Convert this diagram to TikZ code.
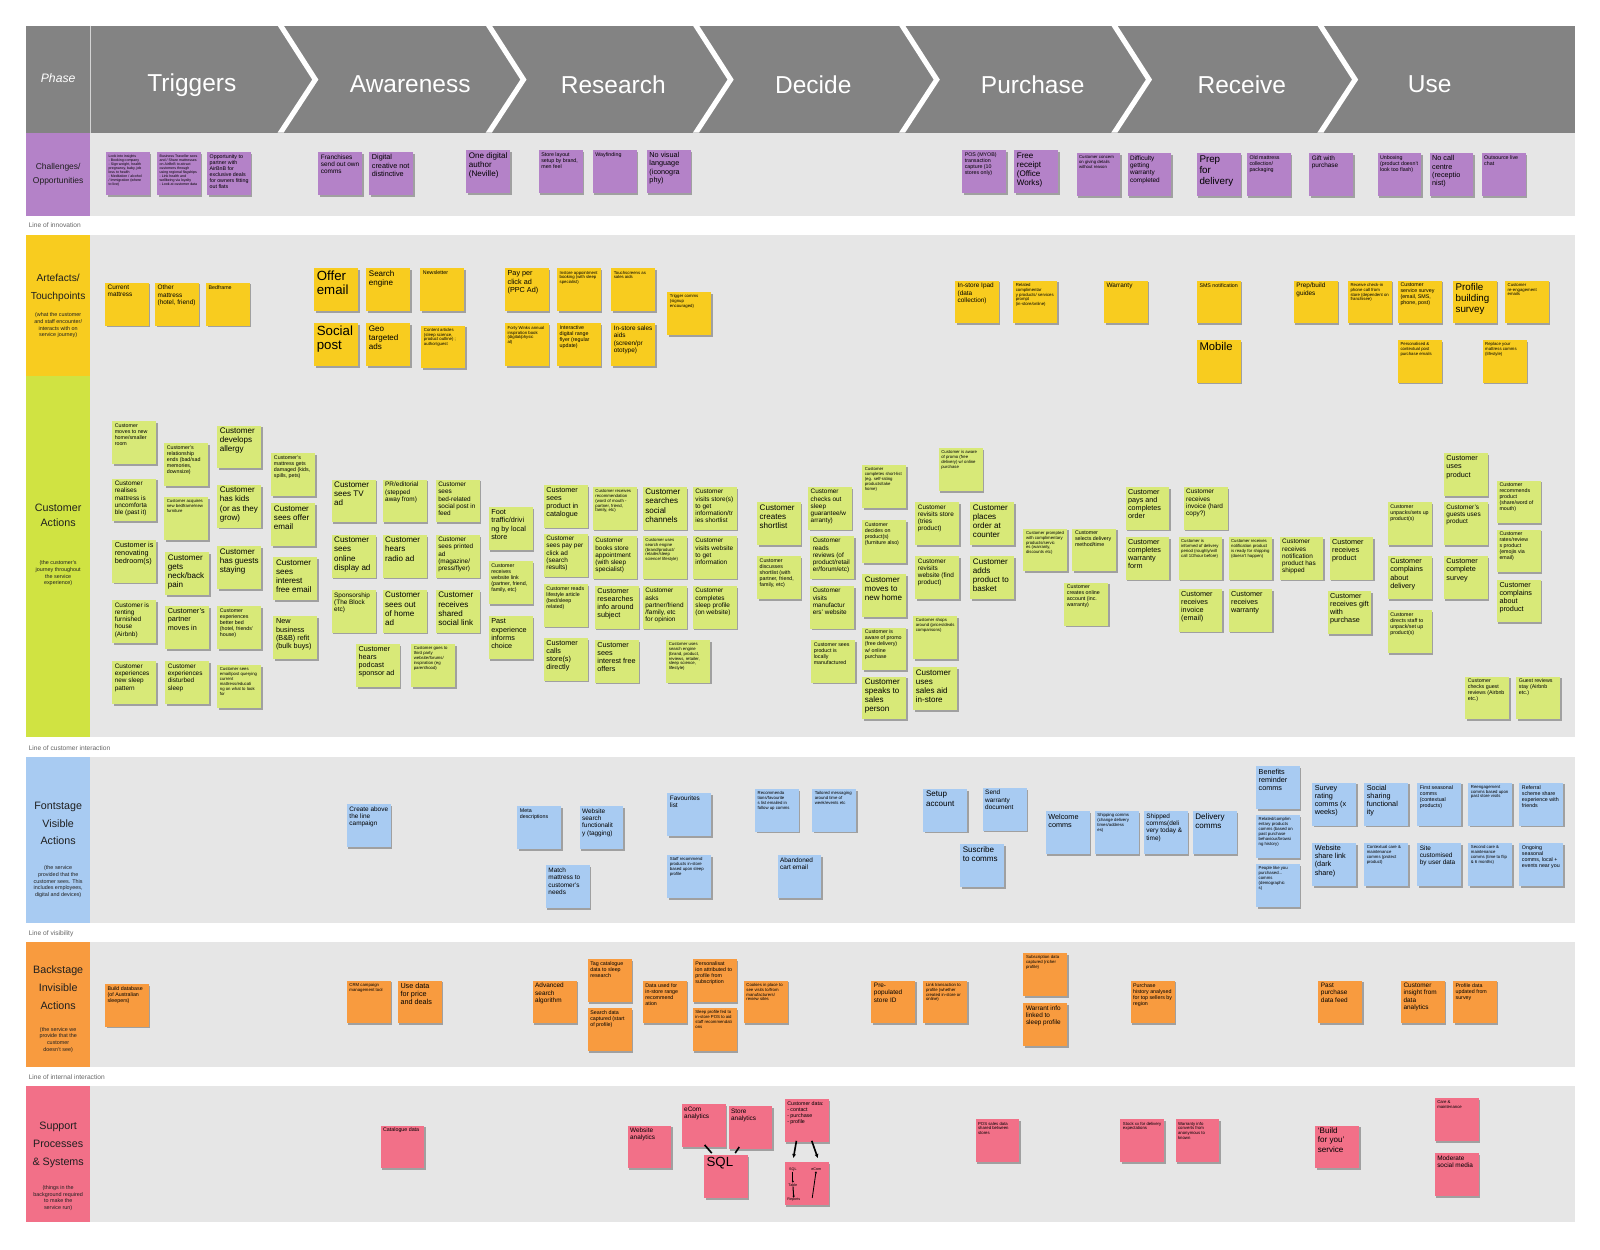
\documentclass[tikz,border=0pt]{standalone}
\usepackage{fontspec}
\setmainfont{Liberation Sans}
\usetikzlibrary{shadows,arrows.meta,calc}
\definecolor{hdr}{HTML}{838383}
\definecolor{bodyg}{HTML}{E6E6E6}
\definecolor{pur}{HTML}{B482C8}
\definecolor{yel}{HTML}{F8CC1F}
\definecolor{grnL}{HTML}{D0E342}
\definecolor{grn}{HTML}{D8E978}
\definecolor{blu}{HTML}{A8CBF2}
\definecolor{org}{HTML}{F89B3F}
\definecolor{pnk}{HTML}{F27088}
\newcommand\zA{\fontsize{13}{14}\selectfont}
\newcommand\zAm{\fontsize{11}{12.5}\selectfont}
\newcommand\zBp{\fontsize{9.6}{10.8}\selectfont}
\newcommand\zB{\fontsize{7.9}{8.9}\selectfont}
\newcommand\zBm{\fontsize{7.1}{8}\selectfont}
\newcommand\zC{\fontsize{6.3}{7.1}\selectfont}
\newcommand\zD{\fontsize{5.2}{5.9}\selectfont}
\newcommand\zE{\fontsize{4.2}{4.8}\selectfont}
\newcommand\zF{\fontsize{3.5}{4}\selectfont}
\newcommand\stk[6]{\node[sticky,fill=#1] (#2) at (#3,#4) {\parbox[t][37pt][t]{38pt}{\raggedright\hyphenpenalty=10000 #5\mbox{}#6}};}
\tikzset{
  sticky/.style={anchor=north west, inner sep=2.5pt, outer sep=0pt,
    drop shadow={shadow xshift=1.4pt, shadow yshift=-1.8pt, opacity=0.3, fill=black}},
  phase/.style={text=white, font=\fontsize{24}{26}\selectfont, inner sep=0pt},
  rowtitle/.style={align=center, text=black!88, inner sep=0pt},
  rowsub/.style={align=center, text=black!88, inner sep=0pt, font=\fontsize{5.3}{6.5}\selectfont},
  lineof/.style={anchor=west, text=black!60, inner sep=0pt, font=\fontsize{6.5}{7}\selectfont},
  conn/.style={line width=1.6pt, black},
  tinyt/.style={inner sep=0.3pt, font=\fontsize{3.6}{4}\selectfont}
}
\begin{document}
\begin{tikzpicture}[x=1pt,y=-1pt]
\useasboundingbox (0,0) rectangle (1568,1225);
\fill[white] (0,0) rectangle (1568,1225);
% header
\fill[hdr] (25,25) rectangle (1543,130);
\draw[white!65!hdr, line width=1.2pt] (89,25) -- (89,130);
\foreach \t in {272,476,679,881,1089,1291}
  \fill[white] (\t,25) -- (\t+6,25) -- (\t+40,78) -- (\t+6,130) -- (\t,130) -- (\t+34,78) -- cycle;
\node[text=white, font=\fontsize{12}{13}\selectfont\itshape, inner sep=0pt] (lphase) at (57,77) {Phase};
\node[phase] (ph1) at (188,83) {Triggers};
\node[phase] (ph2) at (402,83) {Awareness};
\node[phase] (ph3) at (601,83) {Research};
\node[phase] (ph4) at (797,83) {Decide};
\node[phase] (ph5) at (1012,83) {Purchase};
\node[phase] (ph6) at (1217,83) {Receive};
\node[phase] (ph7) at (1401,83) {Use};
% rows
\fill[bodyg] (88,130) rectangle (1543,212);
\fill[pur] (25,130) rectangle (88,212);
\node[rowtitle, font=\fontsize{8.3}{14}\selectfont] (lch) at (57,171) {Challenges/\\Opportunities};
\node[lineof] (line1) at (28,221) {Line of innovation};
\fill[bodyg] (88,230) rectangle (1543,722);
\fill[yel] (25,230) rectangle (88,368);
\fill[grnL] (25,368) rectangle (88,722);
\node[rowtitle, font=\fontsize{10}{18}\selectfont] (lart) at (57,282) {Artefacts/\\Touchpoints};
\node[rowsub] (lart2) at (57,319) {(what the customer\\and staff encounter/\\interacts with on\\service journey)};
\node[rowtitle, font=\fontsize{10.5}{14}\selectfont] (lcus) at (57,505) {Customer\\Actions};
\node[rowsub] (lcus2) at (57,562) {(the customer's\\journey throughout\\the service\\experience)};
\node[lineof] (line2) at (28,733) {Line of customer interaction};
\fill[bodyg] (88,742) rectangle (1543,905);
\fill[blu] (25,742) rectangle (88,905);
\node[rowtitle, font=\fontsize{10.5}{17.5}\selectfont] (lfro) at (57,807) {Fontstage\\Visible\\Actions};
\node[rowsub] (lfro2) at (57,864) {(the service\\provided that the\\customer sees. This\\includes employees,\\digital and devices)};
\node[lineof] (line3) at (28,915) {Line of visibility};
\fill[bodyg] (88,923) rectangle (1543,1046);
\fill[org] (25,923) rectangle (88,1046);
\node[rowtitle, font=\fontsize{10.5}{17.5}\selectfont] (lbac) at (57,968) {Backstage\\Invisible\\Actions};
\node[rowsub] (lbac2) at (57,1019) {(the service we\\provide that the\\customer\\doesn't see)};
\node[lineof] (line4) at (28,1056) {Line of internal interaction};
\fill[bodyg] (88,1064) rectangle (1543,1198);
\fill[pnk] (25,1064) rectangle (88,1198);
\node[rowtitle, font=\fontsize{10.5}{17.5}\selectfont] (lsup) at (57,1122) {Support\\Processes\\\& Systems};
\node[rowsub] (lsup2) at (57,1174) {(things in the\\background required\\to make the\\service run)};
% challenges
\stk{pur}{c1}{104}{149}{\zF}{Look into insights\\- Booking company\\- Sign weight, health\\pregnancy, baby, job\\loss to health\\- Meditation / alcohol\\/ Immigration (where\\to live)}
\stk{pur}{c2}{154}{149}{\zF}{Business Traveller sees and / Share mattresses on AirBnB to attract customers through using regional flagships\\- Link health and wellbeing via loyalty\\- Look at customer data}
\stk{pur}{c3}{203}{149}{\zD}{Opportunity to partner with AirBnB for exclusive deals for owners fitting out flats}
\stk{pur}{c4}{312}{149}{\zC}{Franchises send out own comms}
\stk{pur}{c5}{362}{149}{\zBm}{Digital creative not distinctive}
\stk{pur}{c6}{457}{147}{\zB}{One digital author (Neville)}
\stk{pur}{c7}{528}{147}{\zD}{Store layout setup by brand, men feel}
\stk{pur}{c8}{581}{147}{\zD}{Wayfinding}
\stk{pur}{c9}{634}{147}{\zBm}{No visual language (iconogra\\phy)}
\stk{pur}{c10}{943}{147}{\zD}{POS (MYOB) transaction capture (10 stores only)}
\stk{pur}{c11}{994}{147}{\zB}{Free receipt (Office Works)}
\stk{pur}{c12}{1055}{150}{\zE}{Customer concern on giving details without reason}
\stk{pur}{c13}{1105}{150}{\zC}{Difficulty getting warranty completed}
\stk{pur}{c14}{1173}{150}{\zBp}{Prep\\for\\delivery}
\stk{pur}{c15}{1222}{150}{\zD}{Old mattress collection/ packaging}
\stk{pur}{c16}{1283}{150}{\zC}{Gift with purchase}
\stk{pur}{c17}{1350}{150}{\zD}{Unboxing (product doesn't look too flash)}
\stk{pur}{c18}{1401}{150}{\zBm}{No call centre (receptio\\nist)}
\stk{pur}{c19}{1452}{150}{\zD}{Outsource live chat}
% artefacts
\stk{yel}{a1}{103}{277}{\zC}{Current mattress}
\stk{yel}{a2}{152}{277}{\zC}{Other mattress (hotel, friend)}
\stk{yel}{a3}{202}{277}{\zD}{Bedframe}
\stk{yel}{a4}{308}{263}{\zA}{Offer email}
\stk{yel}{a5}{359}{263}{\zB}{Search engine}
\stk{yel}{a6}{412}{263}{\zD}{Newsletter}
\stk{yel}{a7}{308}{317}{\zA}{Social post}
\stk{yel}{a8}{359}{317}{\zB}{Geo targeted ads}
\stk{yel}{a9}{413}{319}{\zE}{Content articles (sleep science, product outline) ; author/guest}
\stk{yel}{a10}{495}{263}{\zBm}{Pay per click ad (PPC Ad)}
\stk{yel}{a11}{546}{263}{\zE}{Instore appointment booking (with sleep specialist)}
\stk{yel}{a12}{599}{263}{\zE}{Touchscreens as sales aids}
\stk{yel}{a13}{654}{286}{\zE}{Trigger comms (signup encouraged)}
\stk{yel}{a14}{495}{317}{\zE}{Forty Winks annual inspiration book (digital/physic\\al)}
\stk{yel}{a15}{546}{317}{\zD}{Interactive digital range flyer (regular update)}
\stk{yel}{a16}{599}{317}{\zC}{In-store sales aids (screen/pr\\ototype)}
\stk{yel}{a17}{936}{275}{\zC}{In-store Ipad (data collection)}
\stk{yel}{a18}{993}{275}{\zE}{Related complimentar\\y products/ services prompt (in-store/online)}
\stk{yel}{a19}{1082}{275}{\zC}{Warranty}
\stk{yel}{a20}{1173}{275}{\zD}{SMS notification}
\stk{yel}{a21}{1173}{333}{\zAm}{Mobile}
\stk{yel}{a22}{1268}{275}{\zC}{Prep/build guides}
\stk{yel}{a23}{1321}{275}{\zE}{Receive check-in phone call from store (dependent on franchisee)}
\stk{yel}{a24}{1370}{275}{\zD}{Customer service survey (email, SMS, phone, post)}
\stk{yel}{a25}{1424}{275}{\zBp}{Profile building survey}
\stk{yel}{a26}{1475}{275}{\zE}{Customer re-engagement emails}
\stk{yel}{a27}{1370}{333}{\zE}{Personalised \& contextual post purchase emails}
\stk{yel}{a28}{1453}{333}{\zE}{Replace your mattress comms (lifestyle)}
% customer actions
\stk{grn}{g1}{110}{413}{\zD}{Customer moves to new home/smaller room}
\stk{grn}{g2}{110}{469}{\zC}{Customer realises mattress is uncomforta\\ble (past it)}
\stk{grn}{g3}{110}{529}{\zBm}{Customer is renovating bedroom(s)}
\stk{grn}{g4}{110}{588}{\zC}{Customer is renting furnished house (Airbnb)}
\stk{grn}{g5}{110}{648}{\zC}{Customer experiences new sleep pattern}
\stk{grn}{g6}{161}{434}{\zD}{Customer's relationship ends (bad/sad memories, downsize)}
\stk{grn}{g7}{161}{487}{\zE}{Customer acquires new bedframe/new furniture}
\stk{grn}{g8}{162}{541}{\zB}{Customer gets neck/back pain}
\stk{grn}{g9}{162}{594}{\zBm}{Customer's partner moves in}
\stk{grn}{g10}{162}{648}{\zC}{Customer experiences disturbed sleep}
\stk{grn}{g11}{213}{417}{\zB}{Customer develops allergy}
\stk{grn}{g12}{213}{475}{\zB}{Customer has kids (or as they grow)}
\stk{grn}{g13}{213}{535}{\zB}{Customer has guests staying}
\stk{grn}{g14}{213}{594}{\zD}{Customer experiences better bed (hotel, friends' house)}
\stk{grn}{g15}{213}{652}{\zE}{Customer sees email/post querying current mattress/educati\\ng on what to look for}
\stk{grn}{g16}{266}{444}{\zD}{Customer's mattress gets damaged (kids, spills, pets)}
\stk{grn}{g17}{266}{493}{\zB}{Customer sees offer email}
\stk{grn}{g18}{268}{546}{\zB}{Customer sees interest free email}
\stk{grn}{g19}{268}{604}{\zBm}{New business (B\&B) refit (bulk buys)}
\stk{grn}{g20}{325}{470}{\zB}{Customer sees TV ad}
\stk{grn}{g21}{325}{524}{\zB}{Customer sees online display ad}
\stk{grn}{g22}{325}{578}{\zC}{Sponsorship (The Block etc)}
\stk{grn}{g23}{349}{631}{\zBm}{Customer hears podcast sponsor ad}
\stk{grn}{g24}{375}{470}{\zC}{PR/editorial (stepped away from)}
\stk{grn}{g25}{375}{524}{\zB}{Customer hears radio ad}
\stk{grn}{g26}{375}{578}{\zB}{Customer sees out of home ad}
\stk{grn}{g27}{403}{631}{\zE}{Customer goes to third party website/forums/ inspiration (eg parenthood)}
\stk{grn}{g28}{427}{470}{\zC}{Customer sees bed-related social post in feed}
\stk{grn}{g29}{427}{524}{\zC}{Customer sees printed ad (magazine/ press/flyer)}
\stk{grn}{g30}{427}{578}{\zB}{Customer receives shared social link}
\stk{grn}{g31}{479}{497}{\zBm}{Foot traffic/drivi\\ng by local store}
\stk{grn}{g32}{479}{550}{\zD}{Customer receives website link (partner, friend, family, etc)}
\stk{grn}{g33}{479}{604}{\zBm}{Past experience informs choice}
\stk{grn}{g34}{533}{475}{\zBm}{Customer sees product in catalogue}
\stk{grn}{g35}{533}{523}{\zC}{Customer sees pay per click ad (search results)}
\stk{grn}{g36}{533}{572}{\zD}{Customer reads lifestyle article (bed/sleep related)}
\stk{grn}{g37}{533}{625}{\zBm}{Customer calls store(s) directly}
\stk{grn}{g38}{581}{477}{\zE}{Customer receives recommendation (word of mouth - partner, friend, family, etc)}
\stk{grn}{g39}{581}{525}{\zC}{Customer books store appointment (with sleep specialist)}
\stk{grn}{g40}{583}{574}{\zBm}{Customer researches info around subject}
\stk{grn}{g41}{583}{627}{\zBm}{Customer sees interest free offers}
\stk{grn}{g42}{630}{477}{\zB}{Customer searches social channels}
\stk{grn}{g43}{630}{525}{\zE}{Customer uses search engine (brand/product/ retailer/sleep science/ lifestyle)}
\stk{grn}{g44}{630}{574}{\zC}{Customer asks partner/friend /family, etc for opinion}
\stk{grn}{g45}{653}{627}{\zE}{Customer uses search engine (brand, product, reviews, retailer, sleep science, lifestyle)}
\stk{grn}{g46}{679}{477}{\zC}{Customer visits store(s) to get information/tr\\ies shortlist}
\stk{grn}{g47}{679}{525}{\zC}{Customer visits website to get information}
\stk{grn}{g48}{679}{574}{\zC}{Customer completes sleep profile (on website)}
\stk{grn}{g49}{742}{492}{\zB}{Customer creates shortlist}
\stk{grn}{g50}{742}{545}{\zD}{Customer discusses shortlist (with partner, friend, family, etc)}
\stk{grn}{g51}{792}{477}{\zC}{Customer checks out sleep guarantee/w\\arranty)}
\stk{grn}{g52}{794}{525}{\zC}{Customer reads reviews (of product/retail\\er/forum/etc)}
\stk{grn}{g53}{794}{574}{\zC}{Customer visits manufactur\\ers' website}
\stk{grn}{g54}{795}{627}{\zD}{Customer sees product is locally manufactured}
\stk{grn}{g55}{845}{456}{\zE}{Customer completes short-list (eg. self-rating products/take home)}
\stk{grn}{g56}{845}{510}{\zD}{Customer decides on product(s) (furniture also)}
\stk{grn}{g57}{845}{563}{\zB}{Customer moves to new home}
\stk{grn}{g58}{845}{615}{\zD}{Customer is aware of promo (free delivery) w/ online purchase}
\stk{grn}{g59}{845}{663}{\zB}{Customer speaks to sales person}
\stk{grn}{g60}{920}{439}{\zE}{Customer is aware of promo (free delivery) w/ online purchase}
\stk{grn}{g61}{897}{492}{\zC}{Customer revisits store (tries product)}
\stk{grn}{g62}{897}{545}{\zC}{Customer revisits website (find product)}
\stk{grn}{g63}{895}{604}{\zE}{Customer shops around (prices/deals comparisons)}
\stk{grn}{g64}{895}{654}{\zB}{Customer uses\\sales aid in-store}
\stk{grn}{g65}{951}{492}{\zB}{Customer places order at counter}
\stk{grn}{g66}{951}{545}{\zB}{Customer adds product to basket}
\stk{grn}{g67}{1003}{518}{\zE}{Customer prompted with complimentary products/servic\\es (warranty, discounts etc)}
\stk{grn}{g68}{1051}{518}{\zD}{Customer selects delivery method/time}
\stk{grn}{g69}{1043}{571}{\zD}{Customer creates online account (inc. warranty)}
\stk{grn}{g70}{1103}{477}{\zBm}{Customer pays and completes order}
\stk{grn}{g71}{1103}{526}{\zBm}{Customer completes warranty form}
\stk{grn}{g72}{1160}{477}{\zC}{Customer receives invoice (hard copy?)}
\stk{grn}{g73}{1155}{526}{\zE}{Customer is informed of delivery period (roughly/will call 1/2hour before)}
\stk{grn}{g74}{1155}{577}{\zBm}{Customer receives invoice (email)}
\stk{grn}{g75}{1204}{526}{\zE}{Customer receives notification product is ready for shipping (doesn't happen)}
\stk{grn}{g76}{1204}{577}{\zBm}{Customer receives warranty}
\stk{grn}{g77}{1254}{526}{\zC}{Customer receives notification product has shipped}
\stk{grn}{g78}{1303}{526}{\zBm}{Customer receives product}
\stk{grn}{g79}{1301}{579}{\zBm}{Customer receives gift with purchase}
\stk{grn}{g80}{1360}{492}{\zD}{Customer unpacks/sets up product(s)}
\stk{grn}{g81}{1360}{545}{\zBm}{Customer complains about delivery}
\stk{grn}{g82}{1360}{598}{\zD}{Customer directs staff to unpack/set up product(s)}
\stk{grn}{g83}{1415}{444}{\zBm}{Customer uses product}
\stk{grn}{g84}{1415}{492}{\zC}{Customer's guests uses product}
\stk{grn}{g85}{1415}{545}{\zBm}{Customer complete survey}
\stk{grn}{g86}{1467}{471}{\zD}{Customer recommends product (share/word of mouth)}
\stk{grn}{g87}{1467}{519}{\zD}{Customer rates/review\\s product (emojis via email)}
\stk{grn}{g88}{1467}{568}{\zBm}{Customer complains about product}
\stk{grn}{g89}{1436}{663}{\zD}{Customer checks guest reviews (Airbnb etc.)}
\stk{grn}{g90}{1486}{663}{\zD}{Guest reviews stay (Airbnb etc.)}
% frontstage
\stk{blu}{f1}{340}{788}{\zC}{Create above the line campaign}
\stk{blu}{f2}{507}{790}{\zD}{Meta descriptions}
\stk{blu}{f3}{568}{790}{\zC}{Website search functionalit\\y (tagging)}
\stk{blu}{f4}{535}{848}{\zC}{Match mattress to customer's needs}
\stk{blu}{f5}{654}{777}{\zC}{Favourites list}
\stk{blu}{f6}{654}{838}{\zE}{Staff recommend products in-store based upon sleep profile}
\stk{blu}{f7}{740}{773}{\zE}{Recommenda\\tions/favourite\\s list emailed in follow up comms}
\stk{blu}{f8}{796}{773}{\zE}{Tailored messaging around time of week/events etc}
\stk{blu}{f9}{762}{838}{\zC}{Abandoned cart email}
\stk{blu}{f10}{905}{773}{\zB}{Setup account}
\stk{blu}{f11}{963}{772}{\zC}{Send warranty document}
\stk{blu}{f12}{941}{827}{\zB}{Suscribe to comms}
\stk{blu}{f13}{1025}{795}{\zBm}{Welcome comms}
\stk{blu}{f14}{1073}{795}{\zE}{Shipping comms (change delivery times/address\\es)}
\stk{blu}{f15}{1121}{795}{\zC}{Shipped comms(deli\\very today \& time)}
\stk{blu}{f16}{1169}{795}{\zB}{Delivery comms}
\stk{blu}{f17}{1231}{751}{\zBm}{Benefits reminder comms}
\stk{blu}{f18}{1231}{799}{\zE}{Related/complim\\entary products comms (based on past purchase behaviour/browsi\\ng history)}
\stk{blu}{f19}{1231}{847}{\zE}{People like you purchased... comms (demographic\\s)}
\stk{blu}{f20}{1286}{767}{\zBm}{Survey rating comms (x weeks)}
\stk{blu}{f21}{1286}{826}{\zBm}{Website share link (dark share)}
\stk{blu}{f22}{1337}{767}{\zBm}{Social sharing functional\\ity}
\stk{blu}{f23}{1337}{826}{\zE}{Contextual care \& maintenance comms (protect product)}
\stk{blu}{f24}{1389}{767}{\zD}{First seasonal comms (contextual products)}
\stk{blu}{f25}{1389}{826}{\zC}{Site customised by user data}
\stk{blu}{f26}{1439}{767}{\zE}{Reengagement comms based upon past store visits}
\stk{blu}{f27}{1439}{826}{\zE}{Second care \& maintenance comms (time to flip \& 6 months)}
\stk{blu}{f28}{1489}{767}{\zD}{Referral scheme share experience with friends}
\stk{blu}{f29}{1489}{826}{\zD}{Ongoing seasonal comms, local + events near you}
% backstage
\stk{org}{b1}{103}{964}{\zD}{Build database (of Australian sleepers)}
\stk{org}{b2}{340}{961}{\zE}{CRM campaign management tool}
\stk{org}{b3}{390}{961}{\zBm}{Use data for price and deals}
\stk{org}{b4}{522}{961}{\zC}{Advanced search algorithm}
\stk{org}{b5}{576}{940}{\zD}{Tag catalogue data to sleep research}
\stk{org}{b6}{576}{988}{\zD}{Search data captured (start of profile)}
\stk{org}{b7}{630}{961}{\zD}{Data used for in-store range recommend\\ation}
\stk{org}{b8}{679}{940}{\zD}{Personalisat\\ion attributed to profile from subscription}
\stk{org}{b9}{679}{988}{\zE}{Sleep profile fed to in-store POS to aid staff recommendati\\ons}
\stk{org}{b10}{729}{961}{\zE}{Cookies in place to see visits to/from manufacturers/ review sites}
\stk{org}{b11}{854}{961}{\zC}{Pre-populated store ID}
\stk{org}{b12}{905}{961}{\zE}{Link transaction to profile (whether created in-store or online)}
\stk{org}{b13}{1003}{934}{\zE}{Subscription data captured (richer profile)}
\stk{org}{b14}{1003}{983}{\zC}{Warrant info linked to sleep profile}
\stk{org}{b15}{1108}{961}{\zD}{Purchase history analysed for top sellers by region}
\stk{org}{b16}{1292}{961}{\zC}{Past purchase data feed}
\stk{org}{b17}{1373}{961}{\zC}{Customer insight from data analytics}
\stk{org}{b18}{1424}{961}{\zD}{Profile data updated from survey}
% support
\stk{pnk}{s1}{373}{1103}{\zD}{Catalogue data}
\stk{pnk}{s2}{615}{1103}{\zC}{Website analytics}
\stk{pnk}{s3}{668}{1082}{\zC}{eCom analytics}
\stk{pnk}{s4}{714}{1084}{\zC}{Store analytics}
\stk{pnk}{s5}{769}{1077}{\zD}{Customer data:\\- contact\\- purchase\\- profile}
\stk{pnk}{s6}{690}{1132}{\zA}{SQL}
\stk{pnk}{s7}{769}{1139}{\zE}{}
\stk{pnk}{s8}{956}{1097}{\zE}{POS sales data shared between stores}
\stk{pnk}{s9}{1098}{1097}{\zE}{Stock xx for delivery expectations}
\stk{pnk}{s10}{1152}{1097}{\zE}{Warranty info converts from anonymous to known}
\stk{pnk}{s11}{1289}{1103}{\zB}{`Build\\for you'\\service}
\stk{pnk}{s12}{1406}{1076}{\zE}{Care \& maintenance}
\stk{pnk}{s13}{1406}{1130}{\zC}{Moderate social media}
% inside s7
\node[tinyt] (s7sql) at (777,1146) {SQL};
\node[tinyt] (s7ecom) at (800,1146) {eCom};
\node[tinyt] (s7tab) at (777,1161) {Table};
\node[tinyt] (s7rep) at (778,1176) {Reports};
\coordinate (s7c) at (796,1174);
\draw[line width=1pt, -{Latex[length=2pt,width=2.5pt]}] (s7sql) -- (s7tab);
\draw[line width=1pt, -{Latex[length=2pt,width=2.5pt]}] (s7tab) -- (s7rep);
\draw[line width=0.8pt, -{Latex[length=2pt,width=2.5pt]}] (s7c) -- (s7ecom);
% connectors
\draw[conn] ($(s3.south)+(1,-2)$) -- ($(s6.north)+(-14,-2)$);
\draw[conn] ($(s4.south)+(-11,-2)$) -- ($(s6.north)+(9,-2)$);
\draw[conn, -{Latex[length=4pt,width=4pt]}] ($(s5.south)+(-10,-1)$) -- ($(s7.north)+(-13,-4)$);
\draw[conn, -{Latex[length=4pt,width=4pt]}] ($(s5.south)+(5,-1)$) -- ($(s7.north)+(11,-4)$);
\end{tikzpicture}
\end{document}
